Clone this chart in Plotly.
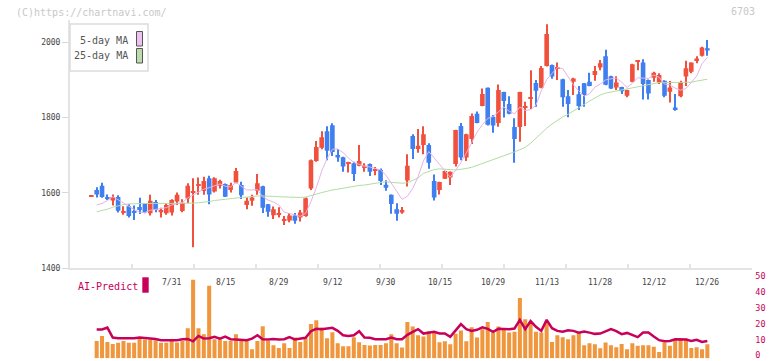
import plotly.graph_objects as go

W, H = 772, 361

# ---------------- data ----------------
open_ = [1591, 1608, 1619, 1589, 1580, 1589, 1548, 1565, 1549, 1563,
         1571, 1546, 1576, 1549, 1546, 1548, 1577, 1552, 1585, 1602,
         1620, 1605, 1639, 1604, 1619, 1624, 1608, 1628, 1621, 1568,
         1579, 1606, 1618, 1570, 1541, 1544, 1526, 1527, 1540, 1535,
         1539, 1612, 1685, 1720, 1764, 1780, 1701, 1695, 1678, 1679,
         1672, 1667, 1677, 1660, 1661, 1622, 1595, 1557, 1548, 1633,
         1751, 1717, 1727, 1727, 1632, 1608, 1638, 1641, 1677, 1778,
         1694, 1743, 1810, 1831, 1879, 1802, 1786, 1868, 1836, 1775,
         1775, 1828, 1850, 1892, 1879, 1937, 1940, 1930, 1902, 1857,
         1895, 1862, 1891, 1895, 1913, 1933, 1963, 1910, 1880, 1881,
         1858, 1895, 1949, 1946, 1900, 1906, 1893, 1898, 1869, 1827,
         1857, 1909, 1922, 1950, 1964, 1984]
high = [1592, 1615, 1627, 1596, 1596, 1594, 1565, 1570, 1567, 1587,
        1573, 1595, 1581, 1561, 1573, 1583, 1601, 1583, 1626, 1639,
        1641, 1643, 1646, 1642, 1635, 1625, 1627, 1666, 1630, 1588,
        1595, 1650, 1619, 1571, 1564, 1562, 1539, 1547, 1547, 1555,
        1588, 1689, 1738, 1764, 1777, 1785, 1716, 1696, 1683, 1683,
        1727, 1679, 1678, 1669, 1665, 1634, 1596, 1573, 1563, 1703,
        1756, 1770, 1777, 1732, 1649, 1630, 1659, 1657, 1768, 1786,
        1757, 1811, 1816, 1877, 1880, 1807, 1888, 1869, 1857, 1798,
        1869, 1842, 1926, 1900, 1937, 2048, 1941, 1946, 1903, 1873,
        1906, 1884, 1892, 1919, 1937, 1953, 1980, 1911, 1910, 1882,
        1874, 1943, 1953, 1955, 1901, 1922, 1918, 1899, 1897, 1863,
        1898, 1951, 1946, 1963, 1988, 2006]
low = [1590, 1588, 1587, 1581, 1567, 1548, 1542, 1535, 1528, 1544,
       1546, 1540, 1549, 1535, 1542, 1540, 1568, 1549, 1573, 1456,
       1595, 1595, 1570, 1601, 1612, 1589, 1601, 1626, 1584, 1557,
       1566, 1595, 1547, 1537, 1531, 1535, 1515, 1522, 1518, 1524,
       1537, 1608, 1683, 1716, 1687, 1698, 1683, 1656, 1654, 1632,
       1671, 1656, 1645, 1647, 1621, 1606, 1545, 1526, 1545, 1617,
       1690, 1707, 1703, 1664, 1580, 1596, 1637, 1621, 1670, 1687,
       1685, 1730, 1785, 1830, 1779, 1760, 1776, 1800, 1809, 1680,
       1736, 1778, 1823, 1829, 1878, 1936, 1903, 1900, 1829, 1801,
       1860, 1820, 1829, 1883, 1898, 1926, 1886, 1876, 1873, 1863,
       1854, 1894, 1926, 1848, 1848, 1895, 1889, 1854, 1840, 1818,
       1854, 1884, 1918, 1944, 1962, 1964]
close = [1592, 1596, 1589, 1585, 1589, 1553, 1549, 1539, 1548, 1555,
         1549, 1579, 1555, 1555, 1568, 1581, 1595, 1574, 1619, 1603,
         1622, 1632, 1596, 1639, 1632, 1590, 1621, 1658, 1594, 1579,
         1588, 1626, 1561, 1550, 1557, 1545, 1531, 1540, 1526, 1548,
         1586, 1687, 1722, 1748, 1712, 1709, 1694, 1670, 1680, 1650,
         1685, 1672, 1656, 1661, 1632, 1614, 1571, 1545, 1555, 1672,
         1717, 1725, 1756, 1680, 1588, 1629, 1658, 1656, 1767, 1694,
         1756, 1804, 1786, 1863, 1781, 1779, 1873, 1844, 1810, 1743,
         1868, 1830, 1852, 1871, 1932, 2022, 1909, 1931, 1854, 1836,
         1904, 1831, 1860, 1884, 1924, 1944, 1887, 1877, 1893, 1870,
         1873, 1942, 1950, 1889, 1864, 1919, 1913, 1858, 1880, 1822,
         1893, 1931, 1946, 1957, 1986, 1978]
ma5 = [None, 1568, 1572, 1580, 1590, 1582, 1573, 1563, 1556, 1549,
       1548, 1554, 1557, 1559, 1561, 1568, 1571, 1575, 1587, 1594,
       1603, 1610, 1614, 1618, 1624, 1618, 1616, 1628, 1619, 1608,
       1608, 1609, 1590, 1581, 1576, 1568, 1549, 1545, 1540, 1538,
       1546, 1577, 1614, 1658, 1691, 1716, 1717, 1707, 1693, 1681,
       1676, 1671, 1669, 1665, 1661, 1647, 1627, 1605, 1583, 1591,
       1612, 1643, 1685, 1710, 1693, 1676, 1662, 1642, 1660, 1681,
       1706, 1735, 1761, 1781, 1798, 1803, 1816, 1828, 1817, 1810,
       1828, 1819, 1821, 1833, 1871, 1901, 1917, 1933, 1930, 1910,
       1887, 1871, 1857, 1863, 1881, 1889, 1900, 1903, 1905, 1894,
       1880, 1891, 1906, 1905, 1904, 1913, 1907, 1889, 1887, 1878,
       1873, 1877, 1894, 1910, 1943, 1960]
ma25 = [None, 1550, 1553, 1557, 1562, 1566, 1569, 1571, 1572, 1572,
        1572, 1572, 1572, 1572, 1572, 1572, 1572, 1572, 1572, 1573,
        1574, 1575, 1577, 1580, 1582, 1584, 1585, 1587, 1588, 1589,
        1591, 1592, 1592, 1592, 1591, 1590, 1589, 1589, 1588, 1588,
        1589, 1592, 1597, 1601, 1605, 1608, 1610, 1613, 1616, 1618,
        1620, 1621, 1623, 1624, 1628, 1630, 1628, 1627, 1626, 1627,
        1634, 1640, 1652, 1658, 1662, 1664, 1664, 1662, 1661, 1662,
        1665, 1668, 1673, 1677, 1682, 1687, 1692, 1697, 1703, 1709,
        1715, 1721, 1732, 1745, 1760, 1772, 1783, 1793, 1802, 1809,
        1817, 1825, 1835, 1844, 1853, 1860, 1865, 1868, 1869, 1872,
        1876, 1879, 1883, 1886, 1889, 1891, 1893, 1893, 1893, 1893,
        1893, 1892, 1894, 1897, 1900, 1902]
volume = [None, 11, 14.2, 10.4, 9.1, 9.8, 11, 9.8, 9.8, 12.7,
          11.9, 11.9, 11.5, 9.8, 9.8, 11.7, 10, 11, 19.1, 50,
          19.1, 15.3, 46, 12.1, 12.1, 11, 11, 15.3, 12.1, 11,
          5.7, 11, 20.4, 11, 8.3, 6.6, 9.6, 6.6, 13.2, 10.4,
          12.7, 21.7, 24.2, 19.5, 12.7, 16.6, 9.6, 7.6, 7.6, 13.4,
          10.2, 8.5, 8.1, 8.5, 8.4, 9.6, 15.3, 9.6, 6.8, 23.1,
          20.2, 14.6, 13.8, 17.2, 16.8, 10.2, 10.8, 8.9, 15.5, 17.6,
          10.8, 19.7, 13.2, 18.5, 23.1, 16.3, 20.2, 18.5, 16.3, 16.8,
          38.2, 24.8, 23.1, 16.8, 16.3, 22.3, 10.4, 14.6, 13.4, 12.1,
          14.6, 16.3, 8.3, 9.6, 8.9, 6.4, 10, 8.3, 7, 9.1,
          5.7, 9.6, 7.9, 8.3, 8.3, 7.4, 4, 10, 7.9, 11.5,
          12.5, 12.5, 6.6, 7, 5.7, 8.9]
ai_predict = [None, 18.3, 18.3, 19.5, 13.2, 12.7, 12.9, 12.7, 12.7, 13.2,
              12.9, 12.7, 12.3, 11.5, 11.5, 11.9, 11.5, 12.1, 12.3, 10.8,
              14.2, 12.5, 12.7, 13.6, 12.5, 13.8, 12.1, 11.9, 11.9, 11.5,
              12.5, 14.6, 12.1, 11.9, 12.3, 11.9, 12.1, 13.4, 11.9, 12.3,
              13.0, 17.2, 18.7, 18.5, 18.7, 19.3, 17.4, 14.6, 14.2, 14.6,
              17.2, 13.2, 13.0, 12.1, 12.1, 12.1, 13.2, 12.1, 12.1, 14.9,
              16.8, 18.5, 15.7, 16.3, 16.8, 15.7, 15.7, 13.6, 17.5, 21.7,
              18.5, 17.4, 18.1, 19.7, 18.7, 16.8, 18.7, 18.5, 18.5, 18.9,
              24.4, 18.5, 23.6, 20.0, 17.4, 24.4, 19.1, 17.4, 16.8, 17.8,
              17.4, 16.3, 17.0, 16.3, 15.5, 15.7, 17.2, 18.5, 17.2, 15.3,
              16.1, 14.9, 13.4, 16.3, 16.3, 13.8, 11.5, 10.8, 11.0, 12.1,
              11.9, 11.9, 11.0, 11.7, 10.4, 11.0]
date_labels = ["7/31", "8/15", "8/29", "9/12", "9/30", "10/15",
               "10/29", "11/13", "11/28", "12/12", "12/26"]
date_label_idx = [15, 25, 35, 45, 55, 65, 75, 85, 95, 105, 115]
price_ticks = [1400, 1600, 1800, 2000]
vol_ticks = [0, 10, 20, 30, 40, 50]

# ---------------- styling ----------------
UP = '#f0503c'
DOWN = '#3f7ff0'
MONO = 'DejaVu Sans Mono'
CRIMSON = '#c8005a'

n = len(close)
idx = list(range(n))
colors = [UP if c >= o else DOWN for o, c in zip(open_, close)]
body_base = [min(o, c) for o, c in zip(open_, close)]
body_h = [max(abs(c - o), 2.5) for o, c in zip(open_, close)]
wick_h = [h - l for h, l in zip(high, low)]


def px_x(p):
    return p / W


def px_y(p):
    return 1 - p / H


X_LO, X_HI = -3.98, 123.39
Y_LO = 1400
Y_HI = 1400 + (268.3 - 20) * 2.6546

fig = go.Figure()
fig.add_trace(go.Bar(x=idx, y=wick_h, base=low, width=0.2,
                     marker=dict(color=colors, line=dict(width=0)),
                     xaxis='x', yaxis='y', hoverinfo='skip'))
fig.add_trace(go.Bar(x=idx, y=body_h, base=body_base, width=0.86,
                     marker=dict(color=colors, line=dict(width=0)),
                     xaxis='x', yaxis='y', hoverinfo='skip'))
fig.add_trace(go.Scatter(x=idx, y=ma25, mode='lines',
                         line=dict(color='#b2dca2', width=1),
                         xaxis='x', yaxis='y'))
fig.add_trace(go.Scatter(x=idx, y=ma5, mode='lines',
                         line=dict(color='#e6b2e6', width=1),
                         xaxis='x', yaxis='y'))
fig.add_trace(go.Bar(x=idx, y=volume, width=0.75,
                     marker=dict(color='#f0963c', line=dict(width=0)),
                     xaxis='x2', yaxis='y2'))
fig.add_trace(go.Scatter(x=idx, y=ai_predict, mode='lines',
                         line=dict(color=CRIMSON, width=2.5),
                         xaxis='x2', yaxis='y2'))

tickvals_x = [X_LO + k * (X_HI - X_LO) / 11 for k in range(12)]

fig.update_layout(
    width=W, height=H,
    margin=dict(l=0, r=0, t=0, b=0, autoexpand=False),
    paper_bgcolor='white', plot_bgcolor='white',
    showlegend=False, barmode='overlay',
    xaxis=dict(domain=[px_x(70), px_x(752.3)], range=[X_LO, X_HI],
               anchor='y', showline=True, linecolor='#e4e4e4', linewidth=2,
               ticks='inside', ticklen=4, tickwidth=2, tickcolor='#e4e4e4',
               tickvals=tickvals_x, showticklabels=False,
               showgrid=False, zeroline=False, automargin=False),
    yaxis=dict(domain=[px_y(268.3), px_y(20)], range=[Y_LO, Y_HI],
               anchor='x', showline=True, linecolor='#e4e4e4', linewidth=2,
               ticks='outside', ticklen=6, tickwidth=1, tickcolor='#d8d8d8',
               tickvals=price_ticks,
               tickfont=dict(family=MONO, size=8, color='#444'),
               showgrid=False, zeroline=False, automargin=False),
    xaxis2=dict(domain=[px_x(70), px_x(752.3)], range=[X_LO, X_HI],
                anchor='y2', visible=False, automargin=False),
    yaxis2=dict(domain=[px_y(358.3), px_y(279.5)], range=[0, 50],
                anchor='x2', side='right', tickvals=vol_ticks,
                tickfont=dict(family=MONO, size=8.5, color=CRIMSON),
                ticklabeloverflow='allow', ticklabelshift=-3,
                ticklabelstandoff=2,
                showline=False, showgrid=False, zeroline=False, ticks='',
                automargin=False),
)

ann = []
for lbl, pos in zip(date_labels, date_label_idx):
    ann.append(dict(x=pos, xref='x', y=px_y(282.5), yref='paper', text=lbl,
                    showarrow=False, xanchor='center', yanchor='middle',
                    font=dict(family=MONO, size=8, color='#444')))
ann.append(dict(x=px_x(14), y=px_y(12.5), xref='paper', yref='paper',
                text='(C)https://chartnavi.com/', showarrow=False,
                xanchor='left', yanchor='middle',
                font=dict(family=MONO, size=10, color='#c8c8c8')))
ann.append(dict(x=px_x(757), y=px_y(11.5), xref='paper', yref='paper',
                text='6703', showarrow=False, xanchor='right', yanchor='middle',
                font=dict(family=MONO, size=10, color='#c8c8c8')))
ann.append(dict(x=px_x(130), y=px_y(40.5), xref='paper', yref='paper',
                text='5-day MA', showarrow=False, xanchor='right', yanchor='middle',
                font=dict(family=MONO, size=10, color='#555')))
ann.append(dict(x=px_x(130), y=px_y(55.5), xref='paper', yref='paper',
                text='25-day MA', showarrow=False, xanchor='right', yanchor='middle',
                font=dict(family=MONO, size=10, color='#555')))
ann.append(dict(x=px_x(76), y=px_y(286), xref='paper', yref='paper',
                text='AI-Predict', showarrow=False, xanchor='left', yanchor='middle',
                font=dict(family=MONO, size=10, color=CRIMSON)))
fig.update_layout(annotations=ann)

shapes = [
    dict(type='rect', xref='paper', yref='paper',
         x0=px_x(70), x1=px_x(148), y0=px_y(71), y1=px_y(24),
         line=dict(color='#dcdcdc', width=1.5), fillcolor='white', layer='above'),
    dict(type='rect', xref='paper', yref='paper',
         x0=px_x(136.5), x1=px_x(142.5), y0=px_y(46), y1=px_y(31.5),
         line=dict(color='#555', width=1), fillcolor='#f0c0f0', layer='above'),
    dict(type='rect', xref='paper', yref='paper',
         x0=px_x(136.5), x1=px_x(142.5), y0=px_y(63), y1=px_y(48.5),
         line=dict(color='#555', width=1), fillcolor='#bcdcac', layer='above'),
    dict(type='rect', xref='paper', yref='paper',
         x0=px_x(142.3), x1=px_x(148.7), y0=px_y(292.7), y1=px_y(277.3),
         line=dict(width=0), fillcolor=CRIMSON, layer='above'),
]
fig.update_layout(shapes=shapes)

fig.write_html(
    "out.html",
    config={'displayModeBar': False},
    post_script="document.body.style.margin='0';document.body.style.padding='0';"
                "document.body.style.overflow='hidden';",
)
